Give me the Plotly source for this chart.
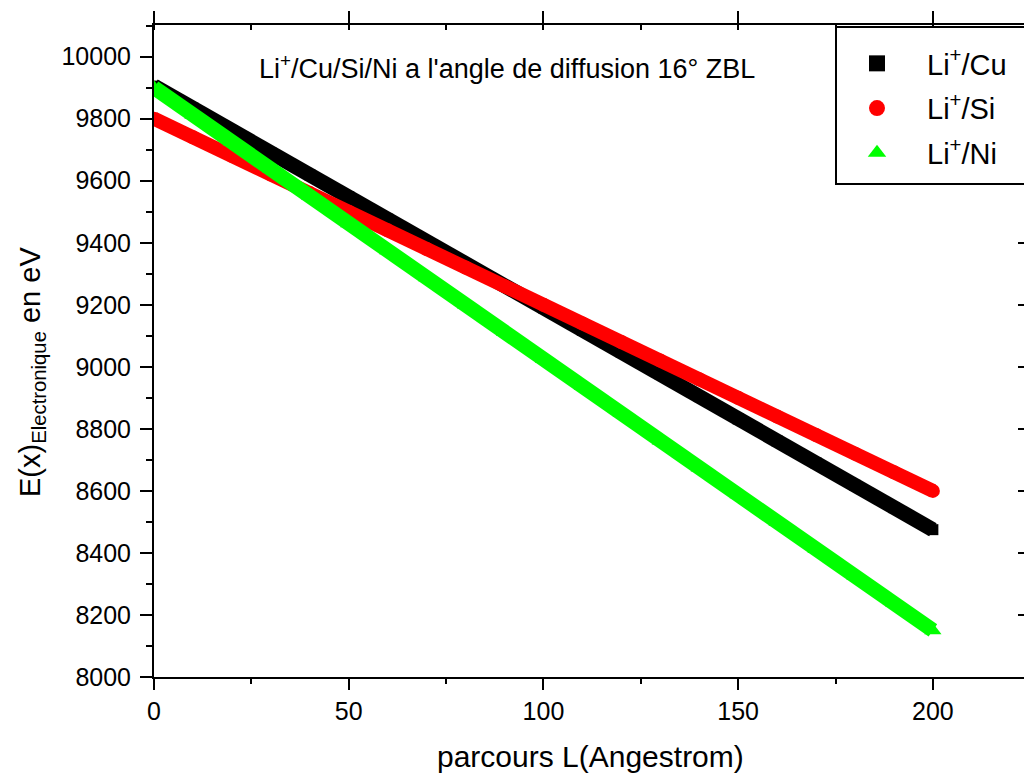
import plotly.graph_objects as go

# Path length L (Angstrom), read every 10 units
L = [0, 10, 20, 30, 40, 50, 60, 70, 80, 90, 100,
     110, 120, 130, 140, 150, 160, 170, 180, 190, 200]

# Electronic energy loss E(x) in eV
E_Cu = [9905, 9834, 9762, 9690, 9619, 9548, 9476, 9404, 9333, 9262, 9190,
        9118, 9047, 8976, 8904, 8832, 8761, 8690, 8618, 8546, 8475]
E_Si = [9800, 9740, 9680, 9620, 9560, 9500, 9440, 9380, 9320, 9260, 9200,
        9140, 9080, 9020, 8960, 8900, 8840, 8780, 8720, 8660, 8600]
E_Ni = [9900, 9812, 9725, 9638, 9550, 9462, 9375, 9288, 9200, 9112, 9025,
        8938, 8850, 8762, 8675, 8588, 8500, 8412, 8325, 8238, 8150]

series_names = ["Li<sup>+</sup>/Cu", "Li<sup>+</sup>/Si", "Li<sup>+</sup>/Ni"]
title_text = "Li<sup>+</sup>/Cu/Si/Ni a l'angle de diffusion 16° ZBL"
x_title = "parcours L(Angestrom)"
y_title = "E(x)<sub>Electronique</sub> en eV"

FONT = "Liberation Sans, Arial, sans-serif"
W, H = 1024, 773
ML, MR, MT, MB = 154, 0, 25, 96
PW, PH = W - ML - MR, H - MT - MB

def px_x(p):
    return (p - ML) / PW

def px_y(p):
    return (H - MB - p) / PH

XR = [0, 223.4]
YR = [8000, 10102]

fig = go.Figure()

specs = [
    (E_Cu, "#000000", "square", 11, 15, 16),
    (E_Si, "#FF0000", "circle", 14, 14, 16),
    (E_Ni, "#00FF00", "triangle-up", 15, 15, 16),
]

for (vals, col, sym, msize, lw, lsize), name in zip(specs, series_names):
    fig.add_trace(go.Scatter(
        x=L, y=vals, mode="lines+markers",
        line=dict(color=col, width=lw),
        marker=dict(color=col, symbol=sym, size=msize, line=dict(width=0)),
        showlegend=False, hoverinfo="x+y", name=name,
    ))

for i, ((vals, col, sym, msize, lw, lsize), name) in enumerate(zip(specs, series_names)):
    fig.add_trace(go.Scatter(
        x=[None], y=[None], mode="markers",
        marker=dict(color=col, symbol=sym, size=lsize, line=dict(width=0)),
        name=name, legendgroup=f"g{i}", showlegend=True,
    ))

# helper trace for the mirrored top / right axes
fig.add_trace(go.Scatter(x=[None], y=[None], xaxis="x2", yaxis="y2",
                         showlegend=False, hoverinfo="skip"))

axis_font = dict(family=FONT, size=25, color="black")

fig.update_layout(
    width=W, height=H,
    margin=dict(l=ML, r=MR, t=MT, b=MB, pad=0),
    paper_bgcolor="white", plot_bgcolor="white",
    font=dict(family=FONT, color="black"),
    xaxis=dict(
        range=XR, showgrid=False, zeroline=False,
        showline=True, linecolor="black", linewidth=2,
        ticks="outside", ticklen=11, tickwidth=2, tickcolor="black",
        tick0=0, dtick=50, tickfont=axis_font, tickformat="d",
        minor=dict(ticks="outside", ticklen=5, tickwidth=2, tickcolor="black", dtick=25),
    ),
    yaxis=dict(
        range=YR, showgrid=False, zeroline=False,
        showline=True, linecolor="black", linewidth=2,
        ticks="outside", ticklen=12, tickwidth=2, tickcolor="black",
        tick0=8000, dtick=200, tickfont=axis_font, tickformat="d",
        ticklabelstandoff=4,
        minor=dict(ticks="outside", ticklen=6, tickwidth=2, tickcolor="black", dtick=100),
    ),
    xaxis2=dict(
        overlaying="x", side="top", range=XR, showgrid=False, zeroline=False,
        showline=True, linecolor="black", linewidth=2,
        ticks="outside", ticklen=12, tickwidth=2, tickcolor="black",
        tick0=0, dtick=50, showticklabels=False,
        minor=dict(ticks="inside", ticklen=5, tickwidth=2, tickcolor="black", dtick=25),
    ),
    yaxis2=dict(
        overlaying="y", side="right", range=YR, showgrid=False, zeroline=False,
        showline=False, ticks="inside", ticklen=6, tickwidth=2, tickcolor="black",
        tick0=8000, dtick=200, showticklabels=False,
    ),
    legend=dict(
        x=px_x(827), y=px_y(38), xanchor="left", yanchor="top",
        bgcolor="rgba(0,0,0,0)", borderwidth=0,
        font=dict(family=FONT, size=29, color="black"),
        itemwidth=90, tracegroupgap=4, traceorder="grouped",
    ),
    shapes=[dict(
        type="rect", xref="paper", yref="paper",
        x0=px_x(836), x1=px_x(1040), y0=px_y(184), y1=px_y(27),
        line=dict(color="black", width=2), fillcolor="white", layer="above",
    )],
    annotations=[
        dict(text=title_text, xref="paper", yref="paper",
             x=px_x(257), y=px_y(67), xanchor="left", yanchor="middle",
             showarrow=False, font=dict(family=FONT, size=27, color="black")),
        dict(text=x_title, xref="paper", yref="paper",
             x=px_x(590), y=px_y(756), xanchor="center", yanchor="middle",
             showarrow=False, font=dict(family=FONT, size=30, color="black")),
        dict(text=y_title, xref="paper", yref="paper", textangle=-90,
             x=px_x(32), y=px_y(372), xanchor="center", yanchor="middle",
             showarrow=False, font=dict(family=FONT, size=29, color="black")),
    ],
)

fig.write_html("out.html")
